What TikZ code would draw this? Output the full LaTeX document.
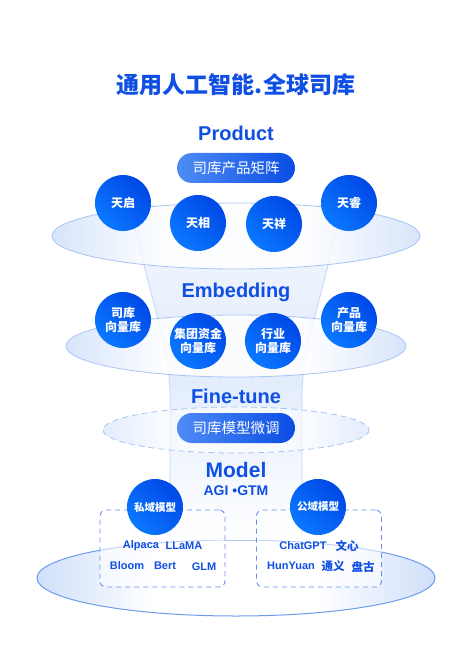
\documentclass[tikz,border=0pt]{standalone}
\usepackage{fontspec}
\setmainfont{Liberation Sans}
\newfontfamily\cjk{Noto Sans CJK SC}
\usetikzlibrary{positioning}
\definecolor{ink}{HTML}{0F4FE3}
\definecolor{rim}{HTML}{A8C4F3}
\definecolor{rimdark}{HTML}{6F9AEE}
\definecolor{haze}{HTML}{D0E0FA}
\definecolor{ballL}{HTML}{0A78FF}
\definecolor{ballR}{HTML}{0048E6}
\definecolor{pillL}{HTML}{4F8CF5}
\definecolor{pillR}{HTML}{0A4DE4}
\definecolor{tube}{HTML}{E2ECFC}
\definecolor{tubeline}{HTML}{C3D6F7}
\definecolor{boxline}{HTML}{6590EE}
\pgfdeclarehorizontalshading{band}{100bp}{color(0bp)=(haze); color(25bp)=(haze); color(40bp)=(white); color(60bp)=(white); color(75bp)=(haze); color(100bp)=(haze)}
\tikzset{
  ring/.style={draw=rim, line width=0.8pt, shading=band, fill opacity=0.85},
  ball/.style={circle, minimum size=56pt, inner sep=0pt, left color=ballL, right color=ballR, shading angle=135,
    text=white, align=center, font=\cjk\bfseries\fontsize{12}{14}\selectfont},
  pill/.style={rounded corners=15pt, minimum width=118pt, minimum height=30pt, left color=pillL, right color=pillR,
    text=white, font=\cjk\fontsize{14.5}{16}\selectfont},
  lyr/.style={text=ink, font=\bfseries\fontsize{20}{24}\selectfont},
  itm/.style={text=ink, inner sep=1pt, font=\bfseries\fontsize{11}{13}\selectfont},
  citm/.style={itm, font=\cjk\bfseries\fontsize{11.5}{13}\selectfont},
  grp/.style={draw=boxline, line width=0.9pt, dash pattern=on 5pt off 4pt, rounded corners=6pt, fill=white, fill opacity=0.55,
    minimum width=125pt, minimum height=77pt},
  fline/.style={draw=tubeline, line width=0.8pt}}

\begin{document}
\begin{tikzpicture}[x=1pt, y=-1pt]
\useasboundingbox (0,0) rectangle (471,668);
% base disc
\path[draw=rimdark, line width=1pt, shading=band] (236,578) ellipse [x radius=199, y radius=38];
% funnel and column
\path[top color=white!60!tube, bottom color=white, middle color=tube]
  (130,205) .. controls (150,300) and (168,340) .. (170,392) -- (170,540)
  -- (302,540) -- (302,392) .. controls (304,340) and (322,300) .. (342,205) -- cycle;
\draw[fline] (130,205) .. controls (150,300) and (168,340) .. (170,392) -- (170,540);
\draw[fline] (342,205) .. controls (322,300) and (304,340) .. (302,392) -- (302,540);
% layers
\path[ring] (236,236) ellipse [x radius=184, y radius=33];
\path[ring] (236,346) ellipse [x radius=170, y radius=31];
\path[ring, dash pattern=on 6pt off 4pt, fill opacity=0.6] (236,430) ellipse [x radius=133, y radius=23];

\node[text=ink, font=\cjk\bfseries\fontsize{23}{26}\selectfont] (title) at (236,85) {通用人工智能.全球司库};

% Product
\node[lyr] (prod) at (236,133) {Product};
\node[pill] (matrix) at (236,168) {司库产品矩阵};
\node[ball] (tq) at (123,203) {天启};
\node[ball] (tx) at (198,223) {天相};
\node[ball] (ts) at (274,224) {天祥};
\node[ball] (tr) at (349,203) {天睿};

% Embedding
\node[lyr] (emb) at (236,292) {Embedding};
\node[ball] (vsk) at (123,320) {司库\\向量库};
\node[ball] (vjt) at (198,341) {集团资金\\向量库};
\node[ball] (vhy) at (273,341) {行业\\向量库};
\node[ball] (vcp) at (349,320) {产品\\向量库};

% Fine-tune
\node[lyr] (ft) at (236,396) {Fine-tune};
\node[pill] (tune) at (236,428) {司库模型微调};

% Model
\node[lyr, font=\bfseries\fontsize{21}{24}\selectfont] (mdl) at (236,470) {Model};
\node[text=ink, font=\bfseries\fontsize{14}{16}\selectfont] (agi) at (236,491) {AGI •GTM};
\node[grp] (pbox) at (162.5,548.5) {};
\node[grp] (gbox) at (319,548.5) {};
\node[ball, font=\cjk\bfseries\fontsize{10.5}{12}\selectfont] (pm) at (155,507) {私域模型};
\node[ball, font=\cjk\bfseries\fontsize{10.5}{12}\selectfont] (gm) at (318,507) {公域模型};
\node[itm] (alp) at (141,546) {Alpaca};
\node[itm] (lla) at (184,546) {LLaMA};
\node[itm] (blo) at (127,566) {Bloom};
\node[itm] (ber) at (165,566) {Bert};
\node[itm] (glm) at (204,567) {GLM};
\node[itm] (cgp) at (303,546) {ChatGPT};
\node[citm] (wx) at (347,546) {文心};
\node[itm] (hy) at (291,566) {HunYuan};
\node[citm] (ty) at (333,566) {通义};
\node[citm] (pg) at (363,567) {盘古};
\end{tikzpicture}
\end{document}
